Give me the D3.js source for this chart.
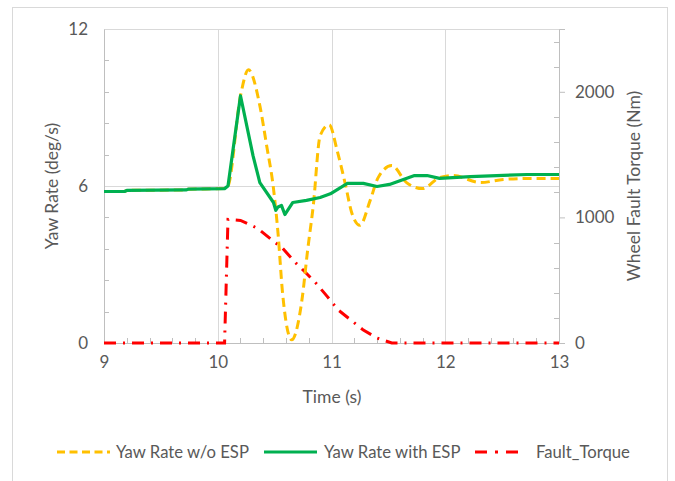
<!DOCTYPE html>
<html lang="en">
<head>
  <meta charset="UTF-8">
  <title>Yaw Rate</title>
  <script src="https://d3js.org/d3.v7.min.js"></script>
  <style>
    body { margin: 0; background: #fff; }
    text { font-family: Lato, "Open Sans", sans-serif; fill: #595959; }
  </style>
</head>
<body>
  <div id="grafico"></div>

  <script>
    // series
    const timeNoEsp = [9, 9.18, 9.2, 9.72, 9.74, 10.06, 10.09, 10.2, 10.27, 10.37, 10.43, 10.49, 10.53, 10.57, 10.65, 10.74, 10.79, 10.84, 10.9, 10.98, 11.05, 11.12, 11.18, 11.25, 11.34, 11.41, 11.53, 11.66, 11.8, 11.95, 12.07, 12.31, 12.51, 12.75, 13];
    const yawNoEsp  = [5.79, 5.79, 5.83, 5.85, 5.88, 5.9, 6.0, 9.45, 10.44, 9.07, 7.54, 5.9, 4.19, 1.9, 0.12, 1.64, 3.54, 5.26, 7.92, 8.34, 7.35, 6.1, 4.95, 4.5, 5.45, 6.32, 6.78, 6.13, 5.9, 6.32, 6.4, 6.13, 6.25, 6.29, 6.29];

    const timeEsp = [9, 9.18, 9.2, 9.72, 9.74, 10.06, 10.09, 10.2, 10.31, 10.37, 10.49, 10.51, 10.53, 10.56, 10.59, 10.66, 10.78, 10.9, 10.99, 11.14, 11.28, 11.4, 11.51, 11.73, 11.84, 11.95, 12.22, 12.72, 13];
    const yawEsp  = [5.79, 5.79, 5.83, 5.85, 5.88, 5.9, 6.0, 9.45, 7.16, 6.13, 5.37, 5.07, 5.2, 5.26, 4.91, 5.37, 5.45, 5.56, 5.7, 6.1, 6.1, 5.98, 6.06, 6.4, 6.4, 6.29, 6.36, 6.44, 6.44];

    const timeTorque = [9, 10.06, 10.09, 10.2, 10.35, 10.48, 10.57, 10.68, 10.77, 10.87, 10.96, 11.06, 11.16, 11.28, 11.4, 11.53, 13];
    const torque     = [0, 0, 984, 976, 913, 817, 754, 643, 563, 470, 373, 262, 190, 103, 40, 0, 0];

    const xTicks = [9, 10, 11, 12, 13];
    const yLeftTicks = [0, 6, 12];
    const yRightTicks = [0, 1000, 2000];

    const seriesNames = ["Yaw Rate w/o ESP", "Yaw Rate with ESP", "Fault_Torque"];

    const ancho = 675, alto = 481;
    const margen = { superior: 29, derecho: 116, inferior: 138, izquierdo: 104 };
    const anchoGrafico = ancho - margen.izquierdo - margen.derecho;
    const altoGrafico = alto - margen.superior - margen.inferior;

    const svg = d3.select("#grafico").append("svg")
      .attr("width", ancho).attr("height", alto);

    // chart border
    svg.append("rect")
      .attr("x", 12.5).attr("y", 7.5).attr("width", 655).attr("height", 490)
      .attr("fill", "none").attr("stroke", "#d9d9d9");

    const g = svg.append("g")
      .attr("transform", `translate(${margen.izquierdo}, ${margen.superior})`);

    const x = d3.scaleLinear().domain([9, 13]).range([0, anchoGrafico]);
    const y = d3.scaleLinear().domain([0, 12]).range([altoGrafico, 0]);
    const y2 = d3.scaleLinear().domain([0, 2500]).range([altoGrafico, 0]);

    // gridlines
    g.append("g").selectAll("line").data(yLeftTicks).enter().append("line")
      .attr("x1", 0).attr("x2", anchoGrafico)
      .attr("y1", d => Math.round(y(d)) + 0.5).attr("y2", d => Math.round(y(d)) + 0.5)
      .attr("stroke", "#d9d9d9");
    g.append("g").selectAll("line").data(xTicks).enter().append("line")
      .attr("y1", 0).attr("y2", altoGrafico)
      .attr("x1", d => Math.round(x(d)) + 0.5).attr("x2", d => Math.round(x(d)) + 0.5)
      .attr("stroke", "#d9d9d9");

    // axes
    const fmt = d3.format("d");
    const ejeX = d3.axisBottom(x).tickValues(xTicks).tickFormat(fmt).tickSize(0).tickPadding(13);
    const ejeY = d3.axisLeft(y).tickValues(yLeftTicks).tickFormat(fmt).tickSize(0).tickPadding(16);
    const ejeY2 = d3.axisRight(y2).tickValues(yRightTicks).tickFormat(fmt).tickSize(6).tickPadding(10);

    const gx = g.append("g").attr("transform", `translate(0, ${altoGrafico})`).call(ejeX);
    const gy = g.append("g").call(ejeY);
    const gy2 = g.append("g").attr("transform", `translate(${anchoGrafico}, 0)`).call(ejeY2);

    [gx, gy, gy2].forEach(a => {
      a.select(".domain").attr("stroke", "#bfbfbf");
      a.selectAll(".tick line").attr("stroke", "#bfbfbf");
      a.selectAll("text").attr("font-size", 17).attr("fill", "#595959")
        .attr("font-family", "Lato, 'Open Sans', sans-serif");
    });

    // minor ticks (inside)
    const minorX = d3.range(9, 13.001, 0.2).filter(d => Math.abs(d - Math.round(d)) > 0.01);
    g.append("g").selectAll("line").data(minorX).enter().append("line")
      .attr("x1", d => Math.round(x(d)) + 0.5).attr("x2", d => Math.round(x(d)) + 0.5)
      .attr("y1", altoGrafico).attr("y2", altoGrafico - 5).attr("stroke", "#bfbfbf");
    const minorY = d3.range(0, 12.001, 1.2).filter(d => d % 6 > 0.01 && d % 6 < 5.99);
    g.append("g").selectAll("line").data(minorY).enter().append("line")
      .attr("y1", d => Math.round(y(d)) + 0.5).attr("y2", d => Math.round(y(d)) + 0.5)
      .attr("x1", 0).attr("x2", 5).attr("stroke", "#bfbfbf");
    const minorY2 = d3.range(0, 2501, 200).filter(d => d % 1000 !== 0);
    g.append("g").selectAll("line").data(minorY2).enter().append("line")
      .attr("y1", d => Math.round(y2(d)) + 0.5).attr("y2", d => Math.round(y2(d)) + 0.5)
      .attr("x1", anchoGrafico).attr("x2", anchoGrafico - 5).attr("stroke", "#bfbfbf");

    // lines
    const lineaNoEsp = d3.line().x((d, i) => x(timeNoEsp[i])).y(d => y(d)).curve(d3.curveMonotoneX);
    const lineaEsp = d3.line().x((d, i) => x(timeEsp[i])).y(d => y(d));
    const lineaTorque = d3.line().x((d, i) => x(timeTorque[i])).y(d => y2(d));

    g.append("path").datum(torque).attr("d", lineaTorque)
      .attr("fill", "none").attr("stroke", "#ff0000").attr("stroke-width", 3)
      .attr("stroke-dasharray", "12,7,2,7");
    g.append("path").datum(yawNoEsp).attr("d", lineaNoEsp)
      .attr("fill", "none").attr("stroke", "#ffc000").attr("stroke-width", 3)
      .attr("stroke-dasharray", "9,5");
    g.append("path").datum(yawEsp).attr("d", lineaEsp)
      .attr("fill", "none").attr("stroke", "#00b050").attr("stroke-width", 3.2)
      .attr("stroke-linejoin", "round");

    // axis titles
    svg.append("text").attr("x", 332).attr("y", 403).attr("text-anchor", "middle")
      .attr("font-size", 17.5).text("Time (s)");
    svg.append("text").attr("transform", "translate(58, 186) rotate(-90)")
      .attr("text-anchor", "middle").attr("font-size", 17.5).text("Yaw Rate (deg/s)");
    svg.append("text").attr("transform", "translate(640, 186) rotate(-90)")
      .attr("text-anchor", "middle").attr("font-size", 17.5).text("Wheel Fault Torque (Nm)");

    // legend
    const leyenda = [
      { x0: 57, x1: 110, tx: 116, color: "#ffc000", dash: "8,4.5" },
      { x0: 264, x1: 317, tx: 324, color: "#00b050", dash: null },
      { x0: 475, x1: 519, tx: 536, color: "#ff0000", dash: "12,8,3,8" }
    ];
    const gl = svg.append("g");
    leyenda.forEach((l, i) => {
      gl.append("line").attr("x1", l.x0).attr("x2", l.x1).attr("y1", 452).attr("y2", 452)
        .attr("stroke", l.color).attr("stroke-width", 3)
        .attr("stroke-dasharray", l.dash);
      gl.append("text").attr("x", l.tx).attr("y", 458).attr("font-size", 16.7).text(seriesNames[i]);
    });
  </script>
</body>
</html>
